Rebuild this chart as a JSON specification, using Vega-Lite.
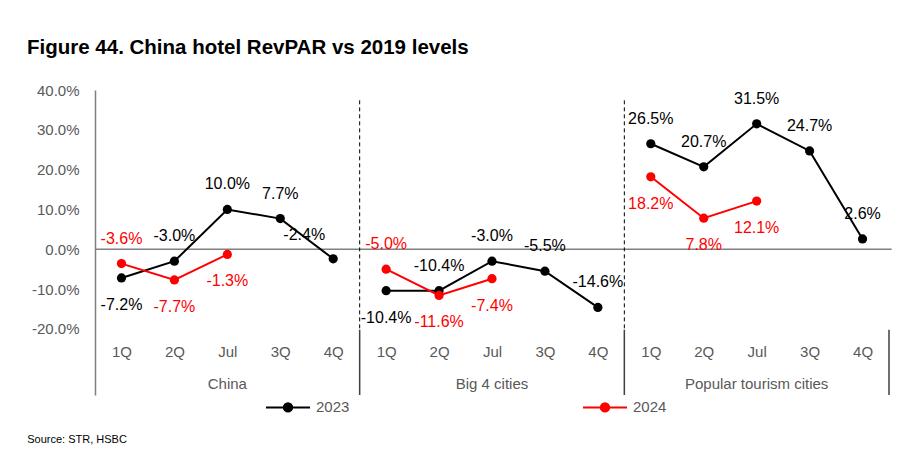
{
  "$schema": "https://vega.github.io/schema/vega-lite/v6.json",
  "autosize": {"type": "none"},
  "padding": {"left": 95, "top": 90, "right": 19, "bottom": 66},
  "width": 794,
  "height": 305,
  "background": "#ffffff",
  "config": {
    "font": "Liberation Sans",
    "view": {"stroke": null},
    "axis": {"grid": false}
  },
  "title": {
    "text": "Figure 44. China hotel RevPAR vs 2019 levels",
    "anchor": "start",
    "frame": "group",
    "fontSize": 20.5,
    "fontWeight": "bold",
    "font": "Liberation Sans",
    "color": "#000000",
    "dx": -68,
    "offset": 25
  },
  "data": {
    "values": [
      {"grp": "China", "idx": 0, "q": "1Q", "year": "2023", "value": -7.2, "pos": "below"},
      {"grp": "China", "idx": 1, "q": "2Q", "year": "2023", "value": -3.0, "pos": "above"},
      {"grp": "China", "idx": 2, "q": "Jul", "year": "2023", "value": 10.0, "pos": "above"},
      {"grp": "China", "idx": 3, "q": "3Q", "year": "2023", "value": 7.7, "pos": "above"},
      {"grp": "China", "idx": 4, "q": "4Q", "year": "2023", "value": -2.4, "pos": "aboveLeft"},
      {"grp": "Big 4 cities", "idx": 5, "q": "1Q", "year": "2023", "value": -10.4, "pos": "below"},
      {"grp": "Big 4 cities", "idx": 6, "q": "2Q", "year": "2023", "value": -10.4, "pos": "above"},
      {"grp": "Big 4 cities", "idx": 7, "q": "Jul", "year": "2023", "value": -3.0, "pos": "above"},
      {"grp": "Big 4 cities", "idx": 8, "q": "3Q", "year": "2023", "value": -5.5, "pos": "above"},
      {"grp": "Big 4 cities", "idx": 9, "q": "4Q", "year": "2023", "value": -14.6, "pos": "above"},
      {"grp": "Popular tourism cities", "idx": 10, "q": "1Q", "year": "2023", "value": 26.5, "pos": "above"},
      {"grp": "Popular tourism cities", "idx": 11, "q": "2Q", "year": "2023", "value": 20.7, "pos": "above"},
      {"grp": "Popular tourism cities", "idx": 12, "q": "Jul", "year": "2023", "value": 31.5, "pos": "above"},
      {"grp": "Popular tourism cities", "idx": 13, "q": "3Q", "year": "2023", "value": 24.7, "pos": "above"},
      {"grp": "Popular tourism cities", "idx": 14, "q": "4Q", "year": "2023", "value": 2.6, "pos": "above"},
      {"grp": "China", "idx": 0, "q": "1Q", "year": "2024", "value": -3.6, "pos": "above"},
      {"grp": "China", "idx": 1, "q": "2Q", "year": "2024", "value": -7.7, "pos": "below"},
      {"grp": "China", "idx": 2, "q": "Jul", "year": "2024", "value": -1.3, "pos": "below"},
      {"grp": "Big 4 cities", "idx": 5, "q": "1Q", "year": "2024", "value": -5.0, "pos": "above"},
      {"grp": "Big 4 cities", "idx": 6, "q": "2Q", "year": "2024", "value": -11.6, "pos": "below"},
      {"grp": "Big 4 cities", "idx": 7, "q": "Jul", "year": "2024", "value": -7.4, "pos": "below"},
      {"grp": "Popular tourism cities", "idx": 10, "q": "1Q", "year": "2024", "value": 18.2, "pos": "below"},
      {"grp": "Popular tourism cities", "idx": 11, "q": "2Q", "year": "2024", "value": 7.8, "pos": "below"},
      {"grp": "Popular tourism cities", "idx": 12, "q": "Jul", "year": "2024", "value": 12.1, "pos": "below"}
    ]
  },
  "layer": [
    {
      "data": {"values": [{}]},
      "mark": {"type": "rule", "color": "#808080", "strokeWidth": 1.5},
      "encoding": {
        "x": {"datum": -0.5, "type": "quantitative"},
        "x2": {"datum": 14.55},
        "y": {"datum": 0, "type": "quantitative"}
      }
    },
    {
      "data": {"values": [{"b": 4.5}, {"b": 9.5}]},
      "mark": {"type": "rule", "color": "#000000", "strokeWidth": 1, "strokeDash": [4, 3]},
      "encoding": {
        "x": {"field": "b", "type": "quantitative"},
        "y": {"datum": 37.4, "type": "quantitative"},
        "y2": {"datum": -20.2}
      }
    },
    {
      "data": {"values": [{"b": 4.5}, {"b": 9.5}, {"b": 14.5}]},
      "mark": {"type": "rule", "color": "#404040", "strokeWidth": 1.5},
      "encoding": {
        "x": {"field": "b", "type": "quantitative"},
        "y": {"datum": -20.2, "type": "quantitative"},
        "y2": {"datum": -36.6}
      }
    },
    {
      "data": {"values": [{"grp": "China", "mid": 2}, {"grp": "Big 4 cities", "mid": 7}, {"grp": "Popular tourism cities", "mid": 12}]},
      "mark": {"type": "text", "fontSize": 15, "color": "#595959", "align": "center", "baseline": "middle"},
      "encoding": {
        "x": {"field": "mid", "type": "quantitative"},
        "y": {"datum": -33.8, "type": "quantitative"},
        "text": {"field": "grp"}
      }
    },
    {
      "data": {"values": [{"src": "Source: STR, HSBC"}]},
      "mark": {"type": "text", "fontSize": 11, "color": "#000000", "align": "left", "baseline": "middle"},
      "encoding": {
        "x": {"datum": -1.78, "type": "quantitative"},
        "y": {"datum": -47.9, "type": "quantitative"},
        "text": {"field": "src"}
      }
    },
    {
      "encoding": {
        "x": {
          "field": "idx",
          "type": "quantitative",
          "scale": {"domain": [-0.5, 14.5], "nice": false, "zero": false},
          "axis": {
            "orient": "bottom",
            "title": null,
            "values": [0, 1, 2, 3, 4, 5, 6, 7, 8, 9, 10, 11, 12, 13, 14],
            "labelExpr": "['1Q','2Q','Jul','3Q','4Q'][datum.value % 5]",
            "domain": false,
            "ticks": false,
            "labelPadding": 0,
            "offset": -51,
            "labelFontSize": 15,
            "labelColor": "#595959",
            "labelFlush": false,
            "labelOverlap": false
          }
        },
        "y": {
          "field": "value",
          "type": "quantitative",
          "scale": {"domain": [-36.6, 40], "nice": false, "zero": false},
          "axis": {
            "title": null,
            "values": [-20, -10, 0, 10, 20, 30, 40],
            "labelExpr": "(datum.value < 0 ? '-' : '') + format(abs(datum.value), '.1f') + '%'",
            "ticks": false,
            "domain": true,
            "domainColor": "#808080",
            "domainWidth": 1.5,
            "labelPadding": 16,
            "labelFontSize": 15,
            "labelColor": "#595959"
          }
        },
        "color": {
          "field": "year",
          "type": "nominal",
          "scale": {"domain": ["2023", "2024"], "range": ["#000000", "#FF0000"]},
          "legend": {
            "title": null,
            "orient": "none",
            "direction": "horizontal",
            "legendX": 170,
            "legendY": 294,
            "symbolType": "M-1,0L1,0M0.19,0A0.19,0.19,0,1,1,-0.19,0A0.19,0.19,0,1,1,0.19,0Z",
            "symbolSize": 1936,
            "symbolStrokeWidth": 2,
            "labelFontSize": 15,
            "labelColor": "#595959",
            "labelOffset": 5,
            "columnPadding": 229,
            "padding": 0,
            "encode": {
              "symbols": {
                "update": {
                  "fill": {"scale": "color", "field": "value"},
                  "stroke": {"scale": "color", "field": "value"},
                  "strokeWidth": {"value": 2}
                }
              }
            }
          }
        },
        "detail": {"field": "grp"}
      },
      "layer": [
        {"mark": {"type": "line", "strokeWidth": 2}},
        {"mark": {"type": "point", "filled": true, "size": 85, "opacity": 1}}
      ]
    },
    {
      "transform": [
        {"calculate": "(datum.value < 0 ? '-' : '') + format(abs(datum.value), '.1f') + '%'", "as": "label"},
        {"filter": "datum.pos == 'above'"}
      ],
      "mark": {"type": "text", "fontSize": 16, "align": "center", "baseline": "middle", "dy": -25},
      "encoding": {
        "x": {"field": "idx", "type": "quantitative"},
        "y": {"field": "value", "type": "quantitative"},
        "text": {"field": "label"},
        "color": {"condition": {"test": "datum.year == '2024'", "value": "#FF0000"}, "value": "#000000"}
      }
    },
    {
      "transform": [
        {"calculate": "(datum.value < 0 ? '-' : '') + format(abs(datum.value), '.1f') + '%'", "as": "label"},
        {"filter": "datum.pos == 'below'"}
      ],
      "mark": {"type": "text", "fontSize": 16, "align": "center", "baseline": "middle", "dy": 27},
      "encoding": {
        "x": {"field": "idx", "type": "quantitative"},
        "y": {"field": "value", "type": "quantitative"},
        "text": {"field": "label"},
        "color": {"condition": {"test": "datum.year == '2024'", "value": "#FF0000"}, "value": "#000000"}
      }
    },
    {
      "transform": [
        {"calculate": "(datum.value < 0 ? '-' : '') + format(abs(datum.value), '.1f') + '%'", "as": "label"},
        {"filter": "datum.pos == 'aboveLeft'"}
      ],
      "mark": {"type": "text", "fontSize": 16, "align": "center", "baseline": "middle", "dy": -24, "dx": -29},
      "encoding": {
        "x": {"field": "idx", "type": "quantitative"},
        "y": {"field": "value", "type": "quantitative"},
        "text": {"field": "label"},
        "color": {"condition": {"test": "datum.year == '2024'", "value": "#FF0000"}, "value": "#000000"}
      }
    }
  ]
}
